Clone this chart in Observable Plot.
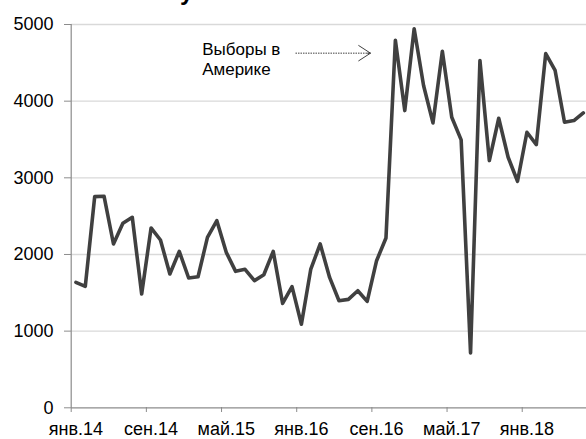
<!DOCTYPE html>
<html>
<head>
<meta charset="utf-8">
<script src="https://cdn.jsdelivr.net/npm/d3@7"></script>
<script src="https://cdn.jsdelivr.net/npm/@observablehq/plot@0.6"></script>
<style>
  html, body { margin: 0; padding: 0; background: #fff; overflow: hidden; }
  #wrap { position: relative; width: 586px; height: 439px; }
  #title { position: absolute; left: 180px; top: -20px; font: bold 24px "Liberation Sans", Arial, sans-serif; line-height: 24px; color: #000; z-index: 2; }
</style>
</head>
<body>
<div id="wrap"><div id="title">у</div></div>
<script>
// Monthly series, Jan 2014 – Jul 2018
const months = d3.utcMonths(new Date(Date.UTC(2014, 0, 1)), new Date(Date.UTC(2018, 7, 1)));
const values = [
  1636, 1584, 2755, 2759, 2137, 2406, 2485, 1484, 2346, 2189, 1745, 2041,
  1693, 1710, 2223, 2441, 2028, 1780, 1806, 1658, 1736, 2041, 1362, 1580,
  1090, 1810, 2137, 1701, 1397, 1414, 1527, 1388, 1919, 2215, 4795, 3877,
  4945, 4204, 3716, 4650, 3790, 3495, 715, 4530, 3225, 3777, 3268, 2955,
  3594, 3433, 4620, 4400, 3725, 3747, 3847
];
const yTicks = [0, 1000, 2000, 3000, 4000, 5000];
const xTickMonths = [0, 8, 16, 24, 32, 40, 48];
const xTickLabels = ["янв.14", "сен.14", "май.15", "янв.16", "сен.16", "май.17", "янв.18"];

// Annotation (in data space: month index, value)
const noteText = ["Выборы в\nАмерике"];
const noteX = [13.94];
const noteY = [4335];
const arrowX1 = [23.87];
const arrowX2 = [31.85];
const arrowY = [4626];

const data = months.map((m, i) => ({i, date: m, v: values[i]}));
const notes = noteText.map((t, k) => ({t, x: noteX[k], y: noteY[k]}));
const arrows = arrowX1.map((x1, k) => ({x1, x2: arrowX2[k], y: arrowY[k]}));

const font = '"Liberation Sans", Arial, sans-serif';

const chart = Plot.plot({
  width: 586,
  height: 439,
  marginLeft: 71,
  marginRight: 0,
  marginTop: 24,
  marginBottom: 32,
  x: {domain: [0, months.length], range: [70.7, 587.5]},
  y: {domain: [0, 5000], range: [407.3, 24]},
  style: {fontFamily: font, fontSize: "18px", color: "#000", background: "#fff"},
  marks: [
    Plot.gridY(yTicks.filter(d => d > 0), {stroke: "#d9d9d9", strokeOpacity: 1, strokeWidth: 1.3}),
    Plot.ruleX([0], {y1: 0, y2: 5000, stroke: "#8c8c8c", strokeWidth: 1.2}),
    Plot.ruleY([0], {stroke: "#8c8c8c", strokeWidth: 1.2}),
    Plot.axisY(yTicks, {tickSize: 7, tickPadding: 11, stroke: "#8c8c8c", fill: "#000", label: null, fontSize: 18, tickFormat: d => String(d)}),
    Plot.axisX(xTickMonths, {tickSize: 5, tickFormat: () => "", stroke: "#8c8c8c", label: null}),
    Plot.axisX(xTickMonths.map(d => d + 0.5), {
      tickSize: 0, tickPadding: 15, label: null, fill: "#000", fontSize: 18,
      tickFormat: d => xTickLabels[xTickMonths.indexOf(d - 0.5)]
    }),
    Plot.line(data, {x: d => d.i + 0.5, y: "v", stroke: "#404040", strokeWidth: 3.6, strokeLinejoin: "round"}),
    Plot.text(notes, {x: "x", y: "y", text: "t", textAnchor: "start", lineAnchor: "bottom", lineHeight: 1.18, fontSize: 17, fill: "#000"}),
    Plot.link(arrows, {x1: "x1", x2: "x2", y1: "y", y2: "y", stroke: "#404040", strokeWidth: 1, strokeDasharray: "1.5,1"}),
    Plot.arrow(arrows, {x1: "x1", x2: "x2", y1: "y", y2: "y", stroke: "#404040", strokeWidth: 1, headLength: 21, headAngle: 66, insetStart: 72})
  ]
});
document.getElementById("wrap").appendChild(chart);
</script>
</body>
</html>
